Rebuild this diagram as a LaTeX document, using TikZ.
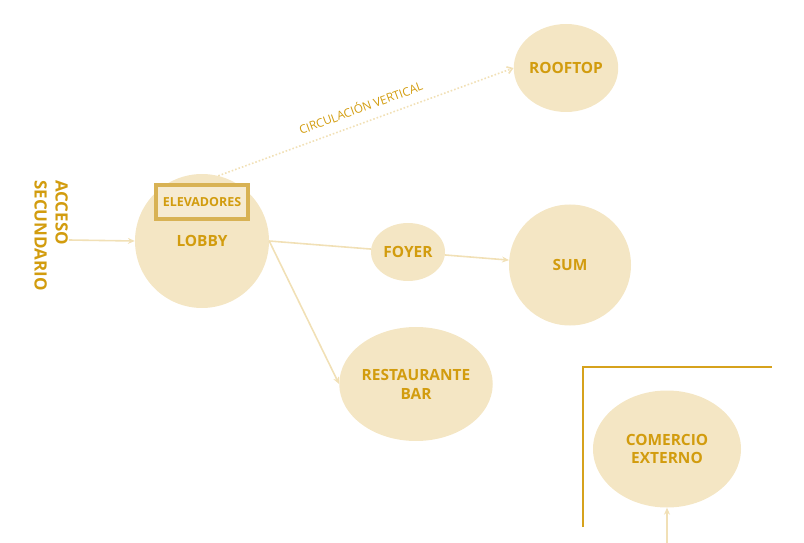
\documentclass[tikz,border=0pt]{standalone}
\usepackage{fontspec}
\setmainfont{Open Sans}
\usetikzlibrary{shapes.geometric,arrows.meta}
\definecolor{fillc}{HTML}{F4E6C4}
\definecolor{txtc}{HTML}{D29C0E}
\definecolor{linec}{HTML}{F1E0B6}
\definecolor{boxc}{HTML}{D8B254}
\definecolor{boxfill}{HTML}{F6EBD2}
\definecolor{wallc}{HTML}{D6A21C}
\tikzset{
  room/.style={ellipse, fill=fillc, draw=none, inner sep=0pt, text=txtc,
    font=\fontsize{15.5}{19}\selectfont\bfseries, align=center},
  conn/.style={draw=linec, line width=1.6pt, -{Stealth[length=7pt,width=6pt]}},
  plain/.style={draw=linec, line width=1.6pt},
  wall/.style={draw=wallc, line width=2.4pt},
}
\begin{document}
\begin{tikzpicture}[x=1bp,y=-1bp]
\useasboundingbox (0,0) rectangle (804,543);
% rooms
\node[room, minimum width=104bp, minimum height=88bp] (roof) at (566,68) {ROOFTOP};
\node[room, minimum width=134bp, minimum height=134bp] (lobby) at (202,241) {};
\node[room, minimum width=74bp, minimum height=58bp] (foyer) at (408,252) {FOYER};
\node[room, minimum width=122bp, minimum height=121bp] (sum) at (570,265) {SUM};
\node[room, minimum width=152bp, minimum height=114bp] (rest) at (416,384) {RESTAURANTE\\BAR};
\node[room, minimum width=148bp, minimum height=117bp] (com) at (667,449) {COMERCIO\\EXTERNO};
% lobby contents
\node[text=txtc, font=\fontsize{15.5}{19}\selectfont\bfseries] (lobbytxt) at (202,241) {LOBBY};
\node[draw=boxc, fill=boxfill, line width=4.5pt, minimum width=92bp, minimum height=34bp,
  inner sep=0pt, text=txtc, font=\fontsize{12.5}{14}\selectfont\bfseries] (elev) at (202,202) {ELEVADORES};
% access label
\node[rotate=-90, anchor=north west, align=left, text=txtc, inner sep=0pt,
  font=\fontsize{17}{21}\selectfont\bfseries] (acc) at (68,180) {ACCESO\\SECUNDARIO};
\coordinate (accstart) at (69,240);
\coordinate (comstart) at (667,543);
% connectors
\draw[conn] (accstart) -- (lobby.west);
\draw[plain] (lobby.east) -- (foyer);
\draw[conn] (foyer) -- (sum);
\draw[conn] (lobby.east) -- (rest.west);
\draw[conn] (comstart) -- (com.south);
\draw[draw=linec, line width=1.6pt, dotted, -{Straight Barb[length=5pt,width=7pt]}] (lobby.76) -- (roof.west)
  node[midway, sloped, above=6bp, text=txtc, font=\fontsize{11.8}{13}\selectfont] (circ) {CIRCULACIÓN VERTICAL};
% walls
\coordinate (w1) at (583,527);
\coordinate (w2) at (583,367);
\coordinate (w3) at (772,367);
\draw[wall] (w1) -- (w2) -- (w3);
\end{tikzpicture}
\end{document}
